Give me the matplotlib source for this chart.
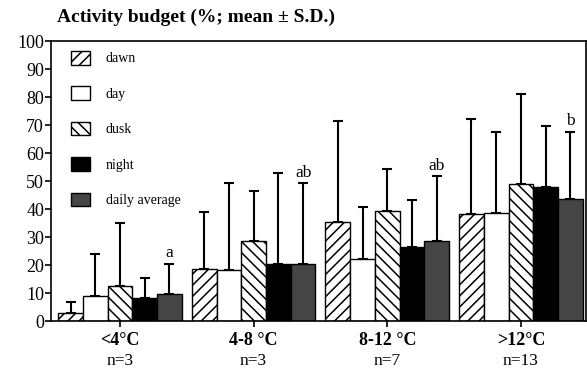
import matplotlib.pyplot as plt
import numpy as np
from matplotlib.patches import Patch

plt.rcParams['font.family'] = ['Liberation Serif', 'DejaVu Serif']
plt.rcParams['hatch.linewidth'] = 1.1

# data
groups = ["<4°C", "4-8 °C", "8-12 °C", ">12°C"]
n_labels = ["n=3", "n=3", "n=7", "n=13"]
series = ["dawn", "day", "dusk", "night", "daily average"]

dawn = [3.0, 18.7, 35.3, 38.3]
day = [9.0, 18.4, 22.3, 38.5]
dusk = [12.7, 28.6, 39.5, 49.0]
night = [8.2, 20.5, 26.4, 48.0]
daily = [9.6, 20.5, 28.5, 43.7]

# upper end of the mean + S.D. whisker
dawn_top = [7.0, 38.9, 71.5, 72.1]
day_top = [24.0, 49.2, 40.9, 67.4]
dusk_top = [35.0, 46.5, 54.3, 81.0]
night_top = [15.5, 52.9, 43.3, 69.8]
daily_top = [20.5, 49.2, 51.7, 67.6]

sig = ["a", "ab", "ab", "b"]

means = [dawn, day, dusk, night, daily]
tops = [dawn_top, day_top, dusk_top, night_top, daily_top]
colors = ["white", "white", "white", "black", "#454545"]
hatches = ["///", None, "\\\\\\", None, None]

fig = plt.figure(figsize=(5.87, 3.70), dpi=100)
ax = fig.add_axes([0.087, 0.132, 0.911, 0.757])

x = np.arange(len(groups))
w = 0.185
for i in range(len(series)):
    pos = x + (i - 2) * w
    m = np.array(means[i])
    sd = np.array(tops[i]) - m
    ax.bar(pos, m, width=w, color=colors[i], edgecolor="black",
           hatch=hatches[i], linewidth=1.0, zorder=2)
    ax.errorbar(pos, m, yerr=[np.zeros_like(sd), sd], fmt="none",
                ecolor="black", elinewidth=1.5, capsize=3.8, capthick=1.5,
                zorder=1)

for j in range(len(groups)):
    ax.text(x[j] + 2 * w, daily_top[j] + 1.0, sig[j], ha="center",
            va="bottom", fontsize=12.5)

ax.set_xlim(-0.516, 3.486)
ax.set_ylim(0, 100)
ax.set_yticks(np.arange(0, 101, 10))
ax.set_xticks(x)
ax.set_xticklabels([""] * len(groups))
for j in range(len(groups)):
    ax.text(x[j], -8.6, groups[j], ha="center", va="baseline",
            fontsize=13, fontweight="bold")
    ax.text(x[j], -15.6, n_labels[j], ha="center", va="baseline",
            fontsize=12.5)
ax.tick_params(axis="y", labelsize=13, length=4, width=1.2, pad=1)
ax.tick_params(axis="x", length=4, width=1.2)
for s in ax.spines.values():
    s.set_linewidth(1.2)

handles = [Patch(facecolor=colors[i], edgecolor="black", hatch=hatches[i],
                 linewidth=1.0) for i in range(len(series))]
ax.legend(handles, series, loc="upper left", frameon=False, fontsize=10,
          labelspacing=1.5, handlelength=1.3, handleheight=1.15,
          handletextpad=1.15, borderaxespad=0.3, bbox_to_anchor=(0.02, 1.0))

fig.text(0.097, 0.953, "Activity budget (%; mean ± S.D.)", fontsize=14,
         fontweight="bold", ha="left", va="center")

fig.savefig("out.png", dpi=100)
